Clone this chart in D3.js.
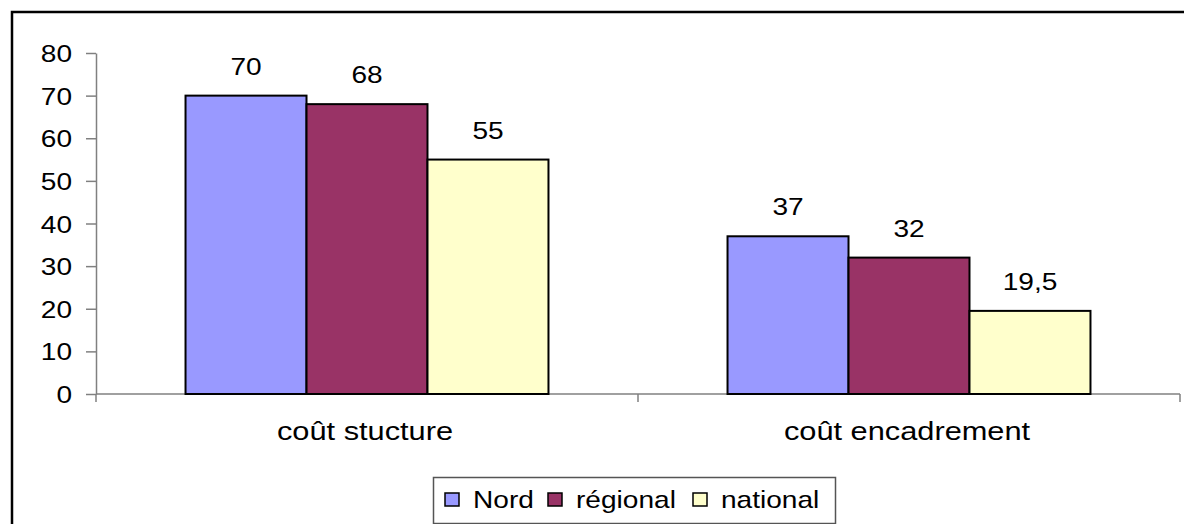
<!DOCTYPE html>
<html>
<head>
<meta charset="utf-8">
<script src="https://cdnjs.cloudflare.com/ajax/libs/d3/7.8.5/d3.min.js"></script>
<style>
  body { margin: 0; background: #fff; }
  text { font-family: Arial, "Liberation Sans", sans-serif; fill: #000; }
</style>
</head>
<body>
<div id="chart"></div>
<script>
var categories = ["coût stucture", "coût encadrement"];
var seriesNames = ["Nord", "régional", "national"];
var nordValues = [70, 37];
var regionalValues = [68, 32];
var nationalValues = [55, 19.5];
var yTicks = [0, 10, 20, 30, 40, 50, 60, 70, 80];

var colors = {"Nord": "#9999ff", "régional": "#993366", "national": "#ffffcc"};

var svgWidth = 1184;
var svgHeight = 524;
var fontSize = 24;
var stretch = 1.17; // text looks horizontally stretched in the reference

var svg = d3.select("#chart")
  .append("svg")
  .attr("width", svgWidth)
  .attr("height", svgHeight);

// outer frame (cut off at right and bottom)
svg.append("rect")
  .attr("x", 12).attr("y", 12)
  .attr("width", 1200).attr("height", 540)
  .attr("fill", "none")
  .attr("stroke", "#000")
  .attr("stroke-width", 2.5);

var data = categories.map(function(c, i) {
  return {
    cat: c,
    vals: [
      {name: "Nord", v: nordValues[i]},
      {name: "régional", v: regionalValues[i]},
      {name: "national", v: nationalValues[i]}
    ]
  };
});

var x0 = d3.scaleBand()
  .domain(categories)
  .range([96, 1180])
  .padding(0);

var x1 = d3.scaleBand()
  .domain(seriesNames)
  .range([0, x0.bandwidth()])
  .paddingInner(0)
  .paddingOuter(0.74);

var y = d3.scaleLinear()
  .domain([0, 80])
  .range([394, 53]);

function fr(v) { return String(v).replace(".", ","); }

function stretchedText(g, x, yy, txt, anchor, size) {
  return g.append("text")
    .attr("transform", "translate(" + x + "," + yy + ") scale(" + stretch + ",1)")
    .attr("text-anchor", anchor || "middle")
    .attr("font-size", size || fontSize)
    .text(txt);
}

// y axis
var leftAxis = d3.axisLeft(y)
  .tickValues(yTicks)
  .tickSize(10)
  .tickSizeOuter(0)
  .tickFormat(function(d) { return d; });

var yg = svg.append("g")
  .attr("transform", "translate(96,0)")
  .call(leftAxis);
yg.select(".domain").attr("stroke", "#808080").attr("stroke-width", 1.5);
yg.selectAll(".tick line").attr("stroke", "#808080").attr("stroke-width", 1.5);
yg.selectAll(".tick text")
  .attr("x", null)
  .attr("dy", null)
  .attr("transform", "translate(-24,8.5) scale(" + stretch + ",1)")
  .attr("font-size", fontSize)
  .attr("font-family", "Arial, 'Liberation Sans', sans-serif")
  .attr("fill", "#000");

// x axis
var xg = svg.append("g")
  .attr("transform", "translate(0,394)");
xg.append("line")
  .attr("x1", x0.range()[0]).attr("x2", x0.range()[1])
  .attr("stroke", "#808080").attr("stroke-width", 1.5);
var xEdges = categories.map(function(c) { return x0(c); }).concat([x0.range()[1]]);
xg.selectAll(".xtick")
  .data(xEdges)
  .enter()
  .append("line")
  .attr("class", "xtick")
  .attr("x1", function(d) { return d; })
  .attr("x2", function(d) { return d; })
  .attr("y1", 0).attr("y2", 8)
  .attr("stroke", "#808080").attr("stroke-width", 1.5);

categories.forEach(function(c) {
  stretchedText(svg, x0(c) + x0.bandwidth() / 2 - 2, 440, c, "middle", 26.3);
});

// bars
var groups = svg.selectAll(".cat")
  .data(data)
  .enter()
  .append("g")
  .attr("class", "cat")
  .attr("transform", function(d) { return "translate(" + x0(d.cat) + ",0)"; });

groups.selectAll("rect")
  .data(function(d) { return d.vals; })
  .enter()
  .append("rect")
  .attr("x", function(d) { return x1(d.name); })
  .attr("y", function(d) { return y(d.v); })
  .attr("width", x1.bandwidth())
  .attr("height", function(d) { return y(0) - y(d.v); })
  .attr("fill", function(d) { return colors[d.name]; })
  .attr("stroke", "#000")
  .attr("stroke-width", 2);

groups.each(function(d) {
  var g = d3.select(this);
  d.vals.forEach(function(s) {
    stretchedText(g, x1(s.name) + x1.bandwidth() / 2, y(s.v) - 21, fr(s.v));
  });
});

// legend
var legend = svg.append("g");
legend.append("rect")
  .attr("x", 433.5).attr("y", 477.5)
  .attr("width", 402).attr("height", 46)
  .attr("fill", "#fff")
  .attr("stroke", "#555")
  .attr("stroke-width", 1.5);

var legendX = [445, 548, 693];
seriesNames.forEach(function(s, i) {
  legend.append("rect")
    .attr("x", legendX[i]).attr("y", 493)
    .attr("width", 14).attr("height", 13)
    .attr("fill", colors[s])
    .attr("stroke", "#000")
    .attr("stroke-width", 1.5);
  stretchedText(legend, legendX[i] + 28, 508, s, "start");
});
</script>
</body>
</html>
